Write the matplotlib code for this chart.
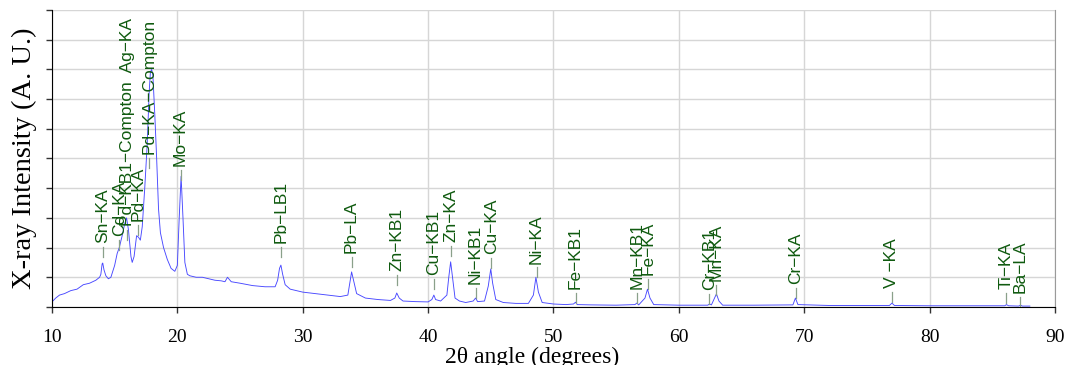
import matplotlib
matplotlib.use("Agg")
import matplotlib.pyplot as plt

# spectrum trace (2theta, intensity a.u.)
trace_x = [10.0, 10.3, 10.6, 11.0, 11.5, 12.0, 12.5, 13.0, 13.5, 13.8,
           13.9, 14.0, 14.05, 14.15, 14.3, 14.5, 14.7, 15.0, 15.2, 15.37,
           15.6, 15.8, 15.95, 16.1, 16.3, 16.4, 16.55, 16.75, 16.9, 17.05,
           17.2, 17.4, 17.6, 17.75, 17.85, 17.95, 18.05, 18.2, 18.35, 18.5,
           18.65, 18.9, 19.2, 19.5, 19.8, 20.0, 20.15, 20.3, 20.45, 20.6,
           20.8, 21.0, 21.5, 22.0, 22.5, 23.0, 23.5, 23.8, 24.0, 24.3,
           25.0, 26.0, 27.0, 27.8, 28.0, 28.15, 28.26, 28.4, 28.6, 29.0,
           30.0, 31.0, 32.0, 33.0, 33.6, 33.75, 33.9, 34.05, 34.3, 35.0,
           36.0, 37.0, 37.35, 37.5, 37.7, 38.0, 39.0, 40.0, 40.3, 40.46,
           40.6, 41.0, 41.5, 41.65, 41.8, 41.95, 42.15, 42.5, 43.0, 43.6,
           43.79, 43.95, 44.5, 44.8, 45.0, 45.15, 45.4, 46.0, 47.0, 48.0,
           48.4, 48.6, 48.8, 49.1, 50.0, 51.0, 51.6, 51.76, 51.9, 53.0,
           55.0, 56.5, 56.65, 56.8, 57.3, 57.5, 57.7, 58.0, 60.0, 62.3,
           62.45, 62.6, 62.85, 63.0, 63.2, 63.5, 66.0, 69.1, 69.3, 69.5,
           72.0, 76.8, 77.0, 77.2, 80.0, 86.0, 86.13, 86.3, 87.1, 87.25,
           87.4, 88.0]
trace_y = [0.017, 0.03, 0.04, 0.045, 0.055, 0.06, 0.075, 0.08, 0.09, 0.1,
           0.11, 0.145, 0.148, 0.125, 0.105, 0.095, 0.1, 0.14, 0.18, 0.2,
           0.24, 0.28, 0.30, 0.26, 0.17, 0.15, 0.17, 0.24, 0.235, 0.225,
           0.27, 0.40, 0.55, 0.72, 0.79, 0.80, 0.78, 0.65, 0.50, 0.33,
           0.25, 0.2, 0.16, 0.13, 0.12, 0.14, 0.3, 0.44, 0.3, 0.15,
           0.11, 0.105, 0.1, 0.1, 0.095, 0.09, 0.088, 0.085, 0.1, 0.085,
           0.08, 0.072, 0.068, 0.068, 0.09, 0.13, 0.141, 0.11, 0.075, 0.06,
           0.05, 0.045, 0.04, 0.035, 0.04, 0.08, 0.118, 0.09, 0.045, 0.03,
           0.025, 0.022, 0.03, 0.047, 0.03, 0.02, 0.018, 0.017, 0.025, 0.04,
           0.025, 0.02, 0.04, 0.1, 0.152, 0.1, 0.03, 0.02, 0.015, 0.02,
           0.03, 0.018, 0.02, 0.07, 0.128, 0.08, 0.025, 0.015, 0.012, 0.012,
           0.04, 0.1, 0.05, 0.015, 0.01, 0.008, 0.01, 0.016, 0.008, 0.007,
           0.006, 0.008, 0.013, 0.007, 0.03, 0.06, 0.03, 0.008, 0.006, 0.006,
           0.01, 0.007, 0.03, 0.044, 0.02, 0.006, 0.006, 0.007, 0.03, 0.008,
           0.005, 0.005, 0.013, 0.005, 0.004, 0.004, 0.008, 0.004, 0.003, 0.006,
           0.003, 0.003]

# peak labels: name, 2theta, height where the marker starts
peak_names = ["Sn−KA", "Cd−KA", "Pd−KB1−Compton  Ag−KA", "Pd−KA", "Pd−KA−Compton",
              "Mo−KA", "Pb−LB1", "Pb−LA", "Zn−KB1", "Cu−KB1", "Zn−KA", "Ni−KB1",
              "Cu−KA", "Ni−KA", "Fe−KB1", "Mn−KB1", "Fe−KA", "Cr−KB1", "Mn−KA",
              "Cr−KA", "V −KA", "Ti−KA", "Ba−LA"]
peak_x = [14.04, 15.37, 16.0, 16.88, 17.76, 20.26, 28.26, 33.9, 37.52, 40.46,
          41.79, 43.79, 45.03, 48.65, 51.76, 56.64, 57.52, 62.42, 63.0,
          69.33, 77.0, 86.13, 87.25]
peak_y = [0.168, 0.192, 0.226, 0.242, 0.468, 0.428, 0.168, 0.135, 0.074, 0.06,
          0.172, 0.03, 0.131, 0.1, 0.013, 0.013, 0.06, 0.01, 0.04,
          0.03, 0.017, 0.013, 0.0]

xticks = [10, 20, 30, 40, 50, 60, 70, 80, 90]

fig = plt.figure(figsize=(10.67, 3.65), dpi=100)
ax = fig.add_axes([0.0487, 0.159, 0.94, 0.8136])

ax.plot(trace_x, trace_y, color="#4848ff", lw=0.65)

# marker tick above each peak, then the rotated name
tick_len = 0.034
for name, x, y in zip(peak_names, peak_x, peak_y):
    ax.plot([x, x], [y, y + tick_len], color="#8aa08a", lw=0.9)
    ax.text(x, y + tick_len + 0.012, name, rotation=90, ha="center", va="bottom",
            fontsize=12.5, color="#0f5a0f", family="Liberation Sans")

ax.set_xlim(10, 90)
ax.set_ylim(0, 1)
ax.set_xticks(xticks)
ax.set_yticks([i / 10 for i in range(11)])
ax.set_yticklabels([])
ax.grid(True, color="#d6d6d6", lw=1)
ax.set_axisbelow(True)

ax.spines["top"].set_visible(False)
ax.spines["right"].set_color("#9a9a9a")
ax.tick_params(axis="both", direction="out", length=4, width=1, color="#333")
ax.tick_params(axis="x", pad=12, labelsize=14)
for lab in ax.get_xticklabels():
    lab.set_family("Liberation Serif")

ax.set_xlabel("2θ angle (degrees)", fontsize=17, family="Liberation Serif")
ax.xaxis.set_label_coords(0.4786, -0.135)
ax.set_ylabel("X-ray Intensity (A. U.)", fontsize=20.5, family="Liberation Serif")
ax.yaxis.set_label_coords(-0.015, 0.5)

fig.savefig("out.png", dpi=100, facecolor="white")
